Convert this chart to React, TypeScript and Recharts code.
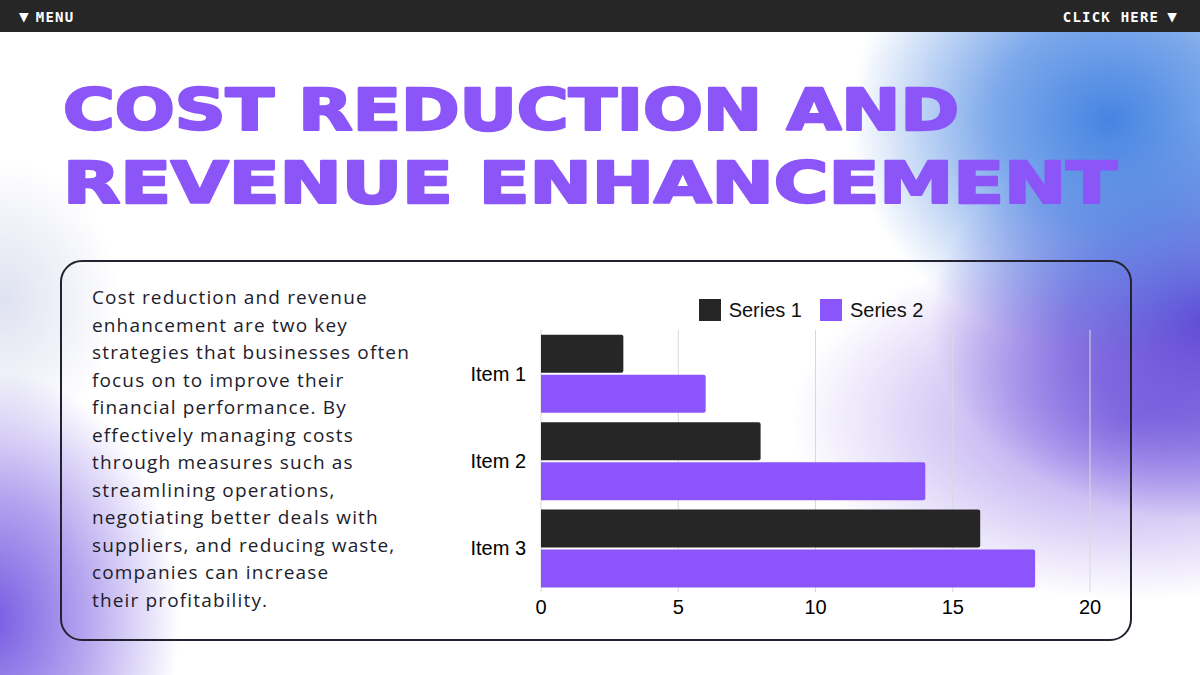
import React from "react";
import { BarChart, Bar, XAxis, YAxis, CartesianGrid, Legend } from "recharts";

const categories = ["Item 1", "Item 2", "Item 3"];
const series1 = [3, 8, 16];
const series2 = [6, 14, 18];
const xTicks = [0, 5, 10, 15, 20];
const seriesNames = ["Series 1", "Series 2"];
const seriesColors = ["#262626", "#8c55fc"];

const data = categories.map((name, i) => ({ name, s1: series1[i], s2: series2[i] }));

const paragraph = [
  "Cost reduction and revenue",
  "enhancement are two key",
  "strategies that businesses often",
  "focus on to improve their",
  "financial performance. By",
  "effectively managing costs",
  "through measures such as",
  "streamlining operations,",
  "negotiating better deals with",
  "suppliers, and reducing waste,",
  "companies can increase",
  "their profitability.",
];

const CHART_W = 680;

const LegendContent = () => (
  <div
    style={{
      width: CHART_W,
      height: 40,
      paddingLeft: 62,
      boxSizing: "border-box",
      display: "flex",
      justifyContent: "center",
      alignItems: "center",
      fontFamily: "'Liberation Sans', Arial, sans-serif",
      fontSize: 20,
      color: "#111",
    }}
  >
    {seriesNames.map((n, i) => (
      <div key={n} style={{ display: "flex", alignItems: "center", marginRight: i === 0 ? 18 : 0 }}>
        <div style={{ width: 22, height: 22, background: seriesColors[i], marginRight: 8 }} />
        <span>{n}</span>
      </div>
    ))}
  </div>
);

const barText: React.CSSProperties = {
  position: "absolute",
  top: 7,
  color: "#fff",
  fontFamily: "'DejaVu Sans Mono', monospace",
  fontWeight: 700,
  fontSize: 14,
  letterSpacing: 1.2,
  display: "flex",
  alignItems: "center",
};

export default function App() {
  return (
    <div
      style={{
        position: "absolute",
        left: 0,
        top: 0,
        width: 1200,
        height: 675,
        overflow: "hidden",
        background: [
          "radial-gradient(ellipse 260px 230px at 1110px 120px, rgba(70,132,226,1) 0%, rgba(70,132,226,0.7) 45%, rgba(70,132,226,0) 100%)",
          "radial-gradient(ellipse 280px 200px at 1210px 320px, rgba(96,72,214,1) 0%, rgba(96,72,214,0.65) 50%, rgba(96,72,214,0) 100%)",
          "radial-gradient(ellipse 340px 180px at 1130px 420px, rgba(150,120,232,0.85) 0%, rgba(150,120,232,0) 100%)",
          "radial-gradient(ellipse 190px 250px at -10px 620px, rgba(118,90,226,1) 0%, rgba(118,90,226,0.55) 50%, rgba(118,90,226,0) 100%)",
          "radial-gradient(ellipse 120px 140px at 0px 300px, rgba(200,205,230,0.6) 0%, rgba(200,205,230,0) 100%)",
          "#ffffff",
        ].join(", "),
      }}
    >
      {/* top bar */}
      <div style={{ position: "absolute", left: 0, top: 0, width: 1200, height: 32, background: "#262626" }} />
      <div style={{ ...barText, left: 19 }}>
        <span style={{ fontSize: 16, marginRight: 6 }}>▼</span>
        <span>MENU</span>
      </div>
      <div style={{ ...barText, right: 22 }}>
        <span style={{ marginRight: 8 }}>CLICK HERE</span>
        <span style={{ fontSize: 16 }}>▼</span>
      </div>

      {/* title */}
      <svg style={{ position: "absolute", left: 0, top: 0 }} width={1200} height={240}>
        <text
          x={63}
          y={130}
          textLength={896}
          lengthAdjust="spacingAndGlyphs"
          fontFamily="'DejaVu Sans', sans-serif"
          fontWeight={700}
          fontSize={57}
          fill="#8b55f8"
          stroke="#8b55f8"
          strokeWidth={2.5}
          strokeLinejoin="round"
        >
          COST REDUCTION AND
        </text>
        <text
          x={63}
          y={203}
          textLength={1054}
          lengthAdjust="spacingAndGlyphs"
          fontFamily="'DejaVu Sans', sans-serif"
          fontWeight={700}
          fontSize={57}
          fill="#8b55f8"
          stroke="#8b55f8"
          strokeWidth={2.5}
          strokeLinejoin="round"
        >
          REVENUE ENHANCEMENT
        </text>
      </svg>

      {/* box */}
      <div
        style={{
          position: "absolute",
          left: 60,
          top: 260,
          width: 1072,
          height: 381,
          boxSizing: "border-box",
          border: "2px solid #222230",
          borderRadius: 22,
        }}
      />

      {/* paragraph */}
      <div
        style={{
          position: "absolute",
          left: 92,
          top: 284,
          fontFamily: "'Open Sans', sans-serif",
          fontSize: 19,
          letterSpacing: 1.15,
          lineHeight: "27.5px",
          color: "#1d1d2b",
          whiteSpace: "nowrap",
        }}
      >
        {paragraph.map((l, i) => (
          <div key={i}>{l}</div>
        ))}
      </div>

      {/* chart */}
      <div style={{ position: "absolute", left: 440, top: 280 }}>
        <BarChart
          width={CHART_W}
          height={350}
          data={data}
          layout="vertical"
          margin={{ top: 10, right: 30, bottom: 0, left: 0 }}
          barCategoryGap="5.5%"
          barGap={2}
        >
          <CartesianGrid horizontal={false} stroke="#d9d9d9" />
          <XAxis
            type="number"
            domain={[0, 20]}
            ticks={xTicks}
            axisLine={false}
            tickLine={false}
            tickMargin={2}
            height={38}
            tick={{ fontSize: 20, fill: "#000", fontFamily: "'Liberation Sans', Arial, sans-serif" }}
          />
          <YAxis
            type="category"
            dataKey="name"
            width={101}
            axisLine={false}
            tickLine={false}
            tickMargin={9}
            tick={{ fontSize: 20, fill: "#000", fontFamily: "'Liberation Sans', Arial, sans-serif" }}
          />
          <Legend verticalAlign="top" align="left" content={<LegendContent />} wrapperStyle={{ left: 0, width: CHART_W }} />
          <Bar dataKey="s1" name={seriesNames[0]} fill={seriesColors[0]} radius={[0, 2, 2, 0]} isAnimationActive={false} />
          <Bar dataKey="s2" name={seriesNames[1]} fill={seriesColors[1]} radius={[0, 2, 2, 0]} isAnimationActive={false} />
        </BarChart>
      </div>
    </div>
  );
}
